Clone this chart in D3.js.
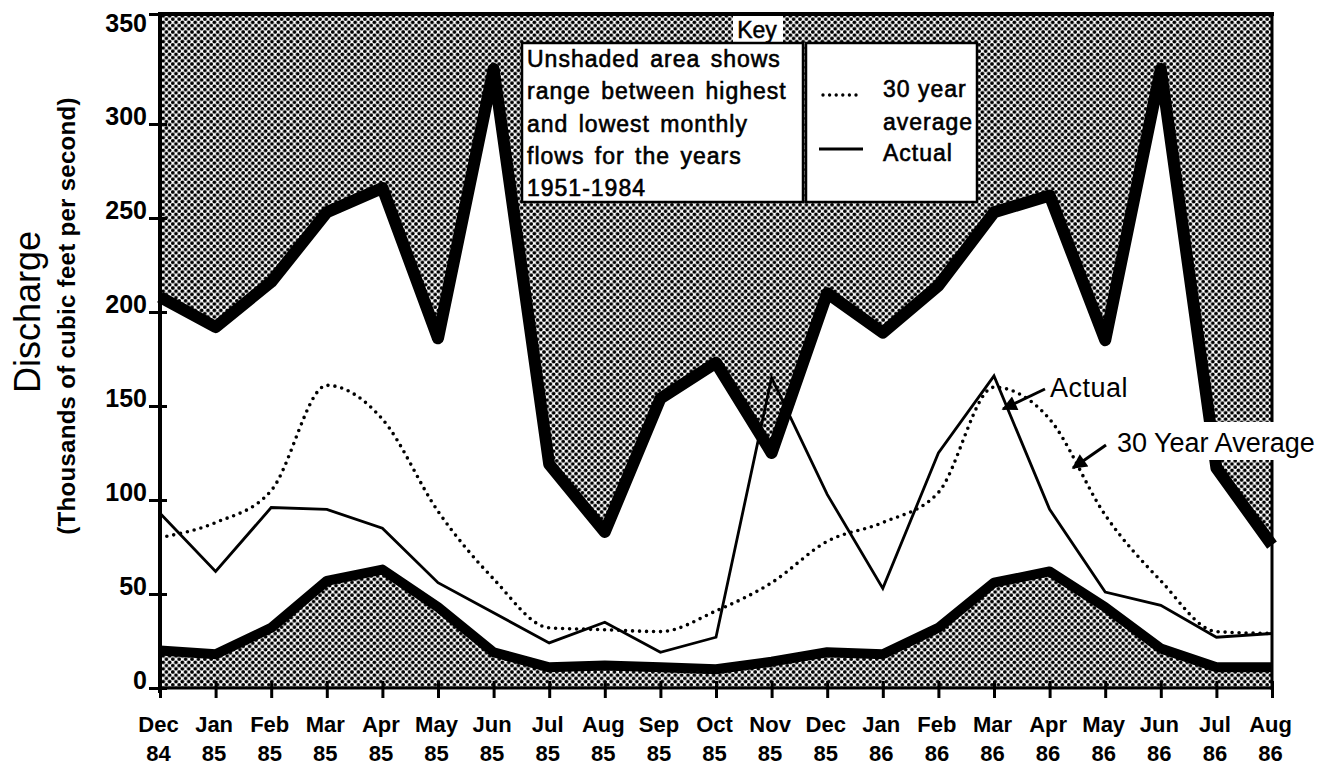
<!DOCTYPE html>
<html>
<head>
<meta charset="utf-8">
<script src="https://cdn.jsdelivr.net/npm/d3@7"></script>
<style>
  body { margin: 0; background: #fff; }
  svg { display: block; }
  text { font-family: "Liberation Sans", Arial, sans-serif; fill: #000; }
</style>
</head>
<body>
<div id="chart"></div>
<script>
// months along the x axis, Dec 84 .. Aug 86
var months = ['Dec','Jan','Feb','Mar','Apr','May','Jun','Jul','Aug','Sep','Oct','Nov',
              'Dec','Jan','Feb','Mar','Apr','May','Jun','Jul','Aug'];
var years = ['84','85','85','85','85','85','85','85','85','85','85','85',
             '85','86','86','86','86','86','86','86','86'];

// thousands of cubic feet per second
var highestFlow = [208,192,216,253,266,186,325,119,83,154,173,125,210,189,214,253,262,185,325,117,76];
var lowestFlow  = [20,18,32,57,63,43,19,11,12,11,10,14,19,18,32,56,62,43,21,11,11];
var actualFlow  = [93,62,96,95,85,56,40,24,35,19,27,165,103,53,125,166,95,51,44,27,29];
var averageFlow = [80,88,105,161,143,94,58,32,31,30,41,56,78,88,104,160,143,92,57,30,29];

var yTicks = [0,50,100,150,200,250,300,350];
var keyText = ['Unshaded area shows','range between highest','and lowest monthly','flows for the years','1951-1984'];

var width = 1326, height = 769;

var svg = d3.select('#chart').append('svg')
            .attr('width', width)
            .attr('height', height);

var x = d3.scalePoint().domain(d3.range(months.length)).range([160, 1272]);
// the top band of the original axis is squeezed, so the scale bends at 300
var y = d3.scaleLinear().domain([0, 300, 350]).range([688, 124, 14]);

var defs = svg.append('defs');

// halftone dot screen for the shaded areas
var pat = defs.append('pattern')
              .attr('id', 'dots')
              .attr('patternUnits', 'userSpaceOnUse')
              .attr('width', 6.4)
              .attr('height', 6.4);
pat.append('rect').attr('width', 6.4).attr('height', 6.4).attr('fill', '#fff');
[[0,0],[6.4,0],[0,6.4],[6.4,6.4],[3.2,3.2]].forEach(function(p) {
  pat.append('circle').attr('cx', p[0]).attr('cy', p[1]).attr('r', 1.9).attr('fill', '#000');
});

defs.append('marker')
    .attr('id', 'head')
    .attr('viewBox', '0 0 10 10')
    .attr('refX', 9).attr('refY', 5)
    .attr('markerWidth', 6).attr('markerHeight', 5)
    .attr('markerUnits', 'strokeWidth')
    .attr('orient', 'auto')
  .append('path')
    .attr('d', 'M0,0 L10,5 L0,10 z')
    .attr('fill', '#000');

var px = function(d, i) { return x(i); };

// shaded areas outside the historic range
svg.append('path')
   .datum(highestFlow)
   .attr('d', d3.area().x(px).y0(y(350)).y1(function(d) { return y(d); }))
   .attr('fill', 'url(#dots)');

svg.append('path')
   .datum(lowestFlow)
   .attr('d', d3.area().x(px).y0(y(0)).y1(function(d) { return y(d); }))
   .attr('fill', 'url(#dots)');

var line = d3.line().x(px).y(function(d) { return y(d); });

svg.append('path')
   .datum(highestFlow)
   .attr('d', line)
   .attr('fill', 'none')
   .attr('stroke', '#000')
   .attr('stroke-width', 12)
   .attr('stroke-linejoin', 'round');

svg.append('path')
   .datum(lowestFlow)
   .attr('d', line)
   .attr('fill', 'none')
   .attr('stroke', '#000')
   .attr('stroke-width', 10)
   .attr('stroke-linejoin', 'round');

svg.append('path')
   .datum(averageFlow)
   .attr('d', d3.line().x(px).y(function(d) { return y(d); }).curve(d3.curveMonotoneX))
   .attr('fill', 'none')
   .attr('stroke', '#000')
   .attr('stroke-width', 3.6)
   .attr('stroke-linecap', 'round')
   .attr('stroke-dasharray', '0 7');

svg.append('path')
   .datum(actualFlow)
   .attr('d', line)
   .attr('fill', 'none')
   .attr('stroke', '#000')
   .attr('stroke-width', 2.8);

// frame
var frame = svg.append('g').attr('stroke', '#000');
frame.append('line').attr('x1', 160).attr('x2', 160).attr('y1', 12).attr('y2', 693).attr('stroke-width', 4);
frame.append('line').attr('x1', 158).attr('x2', 1274).attr('y1', 14).attr('y2', 14).attr('stroke-width', 4);
frame.append('line').attr('x1', 1272).attr('x2', 1272).attr('y1', 12).attr('y2', 690).attr('stroke-width', 3);
frame.append('line').attr('x1', 158).attr('x2', 1274).attr('y1', 688).attr('y2', 688).attr('stroke-width', 3);

// y axis
var yAxis = svg.append('g')
               .attr('transform', 'translate(160,0)')
               .call(d3.axisLeft(y).tickValues(yTicks).tickSize(11));
yAxis.select('.domain').remove();
yAxis.selectAll('.tick line').attr('x2', -11).attr('x1', 7).attr('stroke', '#000').attr('stroke-width', 3);
yAxis.selectAll('.tick text')
     .attr('x', -13)
     .attr('dy', function(d) { return d === 350 ? '0.7em' : '0.02em'; })
     .attr('font-size', 25)
     .attr('font-weight', 'bold')
     .style('font-family', '"Liberation Sans", Arial, sans-serif');

// x axis
var xAxis = svg.append('g')
               .attr('transform', 'translate(0,688)')
               .call(d3.axisBottom(x).tickSize(10).tickFormat(function() { return ''; }));
xAxis.select('.domain').remove();
xAxis.selectAll('.tick line').attr('y1', -7).attr('stroke', '#000').attr('stroke-width', 3);
var xt = xAxis.selectAll('.tick').append('text')
              .attr('text-anchor', 'middle')
              .attr('font-size', 22)
              .attr('font-weight', 'bold');
xt.append('tspan').attr('x', -2).attr('y', 44).text(function(d) { return months[d]; });
xt.append('tspan').attr('x', -2).attr('y', 73).text(function(d) { return years[d]; });

// axis titles
svg.append('text')
   .attr('transform', 'translate(40,312) rotate(-90)')
   .attr('text-anchor', 'middle')
   .attr('font-size', 36)
   .text('Discharge');

svg.append('text')
   .attr('transform', 'translate(75,316) rotate(-90)')
   .attr('text-anchor', 'middle')
   .attr('font-size', 24)
   .attr('font-weight', 'bold')
   .attr('letter-spacing', 0.3)
   .text('(Thousands of cubic feet per second)');

// key
var key = svg.append('g');
key.append('rect').attr('x', 733).attr('y', 16).attr('width', 50).attr('height', 26).attr('fill', '#fff');
key.append('text').attr('x', 757).attr('y', 38).attr('text-anchor', 'middle')
   .attr('font-size', 23).attr('stroke', '#000').attr('stroke-width', 0.5).text('Key');
key.append('rect').attr('x', 522).attr('y', 43).attr('width', 281).attr('height', 159)
   .attr('fill', '#fff').attr('stroke', '#000').attr('stroke-width', 2.5);
key.append('rect').attr('x', 806).attr('y', 43).attr('width', 171).attr('height', 159)
   .attr('fill', '#fff').attr('stroke', '#000').attr('stroke-width', 2.5);

key.selectAll('.keyline')
   .data(keyText)
   .enter().append('text')
   .attr('class', 'keyline')
   .attr('x', 527)
   .attr('y', function(d, i) { return 67 + i * 32.3; })
   .attr('font-size', 23)
   .attr('letter-spacing', 1)
   .attr('word-spacing', 3)
   .attr('stroke', '#000')
   .attr('stroke-width', 0.6)
   .text(function(d) { return d; });

key.append('line').attr('x1', 823).attr('x2', 862).attr('y1', 95).attr('y2', 95)
   .attr('stroke', '#000').attr('stroke-width', 3.4).attr('stroke-linecap', 'round')
   .attr('stroke-dasharray', '0 6.6');
key.append('line').attr('x1', 819).attr('x2', 863).attr('y1', 149).attr('y2', 149)
   .attr('stroke', '#000').attr('stroke-width', 3);
[['30 year', 97], ['average', 130], ['Actual', 161]].forEach(function(t) {
  key.append('text').attr('x', 883).attr('y', t[1])
     .attr('font-size', 23).attr('letter-spacing', 1)
     .attr('stroke', '#000').attr('stroke-width', 0.6)
     .text(t[0]);
});

// callouts
svg.append('rect').attr('x', 1110).attr('y', 422).attr('width', 216).attr('height', 38).attr('fill', '#fff');

svg.append('text').attr('x', 1050).attr('y', 397).attr('font-size', 27).attr('letter-spacing', 0.5).text('Actual');
svg.append('line').attr('x1', 1045).attr('y1', 389).attr('x2', 1003).attr('y2', 409)
   .attr('stroke', '#000').attr('stroke-width', 3).attr('marker-end', 'url(#head)');

svg.append('text').attr('x', 1117).attr('y', 452).attr('font-size', 27).text('30 Year Average');
svg.append('line').attr('x1', 1106).attr('y1', 445).attr('x2', 1073).attr('y2', 468)
   .attr('stroke', '#000').attr('stroke-width', 3).attr('marker-end', 'url(#head)');
</script>
</body>
</html>
